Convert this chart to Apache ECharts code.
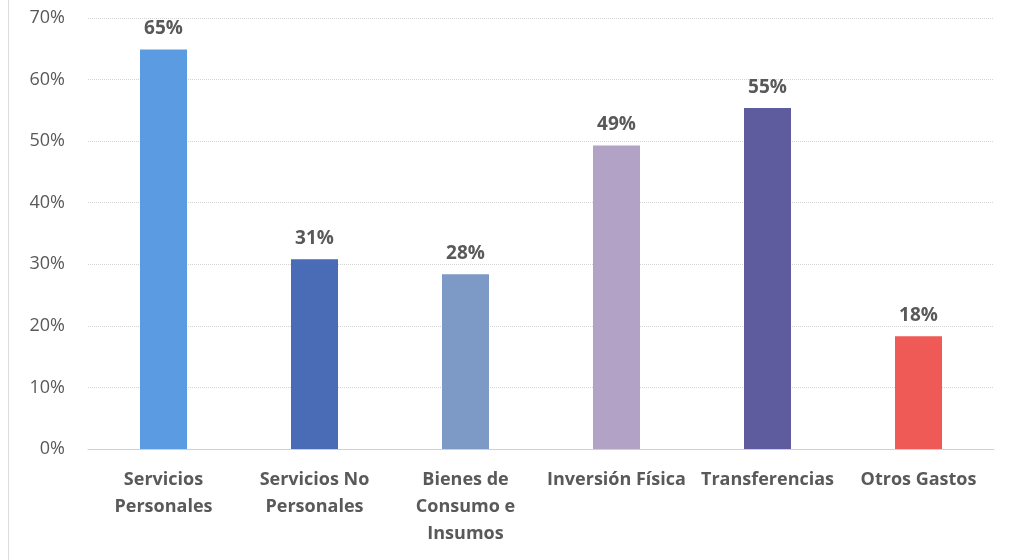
<!DOCTYPE html>
<html><head><meta charset="utf-8">
<script src="https://cdn.jsdelivr.net/npm/echarts@6/dist/echarts.min.js"></script>
<style>html,body{margin:0;padding:0;background:#fff}#c{width:1013px;height:560px}</style>
</head><body><div id="c"></div>
<script>
const categories = ["Servicios\nPersonales", "Servicios No\nPersonales", "Bienes de\nConsumo e\nInsumos", "Inversión Física", "Transferencias", "Otros Gastos"];
const values = [64.9, 30.8, 28.4, 49.3, 55.4, 18.3];
const barColors = ["#5b9be2", "#4a6cb6", "#7d9ac6", "#b1a2c6", "#5f5b9f", "#ef5a56"];
const yTicks = [0, 10, 20, 30, 40, 50, 60, 70];

const chart = echarts.init(document.getElementById('c'));
chart.setOption({
  animation: false,
  graphic: [{type: 'line', shape: {x1: 8.5, y1: 0, x2: 8.5, y2: 560}, style: {stroke: '#dcdcdc', lineWidth: 1}}],
  grid: {left: 88, right: 19, top: 18, bottom: 111, containLabel: false},
  xAxis: {
    type: 'category', data: categories,
    axisLine: {show: true, lineStyle: {color: '#d0d0d0'}},
    axisTick: {show: false},
    axisLabel: {color: '#595959', fontFamily: 'Open Sans', fontWeight: 'bold', fontSize: 18, lineHeight: 27, margin: 17, interval: 0}
  },
  yAxis: {
    type: 'value', min: 0, max: 70, interval: 10,
    axisLine: {show: false}, axisTick: {show: false},
    splitLine: {lineStyle: {color: '#d4d4d4', type: 'dotted'}},
    axisLabel: {color: '#595959', fontFamily: 'Open Sans', fontSize: 18, margin: 23, formatter: v => yTicks.includes(v) ? v + '%' : ''}
  },
  series: [{
    type: 'bar', barWidth: 47,
    data: values.map((v, i) => ({value: v, itemStyle: {color: barColors[i]}})),
    label: {show: true, position: 'top', distance: 11, color: '#595959', fontFamily: 'Open Sans', fontWeight: 'bold', fontSize: 19, formatter: p => Math.round(p.value) + '%'}
  }]
});
</script></body></html>
